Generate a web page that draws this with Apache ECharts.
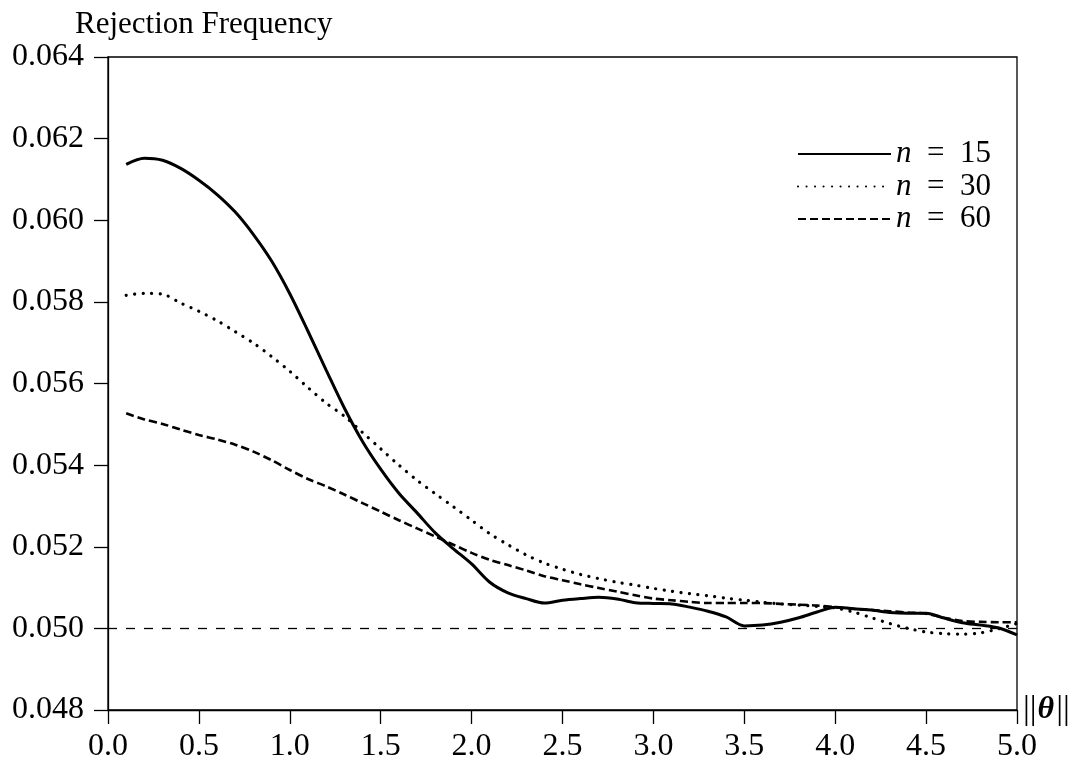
<!DOCTYPE html>
<html>
<head>
<meta charset="utf-8">
<script src="https://cdn.jsdelivr.net/npm/echarts@6/dist/echarts.min.js"></script>
<style>
html,body{margin:0;padding:0;background:#fff;}
#chart{width:1082px;height:767px;}
</style>
</head>
<body>
<div id="chart"></div>
<script>
// ---- data ----
const thetaNorm = [0.1,0.2,0.3,0.4,0.5,0.6,0.7,0.8,0.9,1.0,1.1,1.2,1.3,1.4,1.5,1.6,1.7,1.8,1.9,2.0,2.1,2.2,2.3,2.4,2.5,2.6,2.7,2.8,2.9,3.0,3.1,3.2,3.3,3.4,3.5,3.6,3.7,3.8,3.9,4.0,4.1,4.2,4.3,4.4,4.5,4.6,4.7,4.8,4.9,5.0];
const rejN15 = [0.06137,0.06152,0.06147,0.06127,0.06098,0.06063,0.06020,0.05965,0.05900,0.05820,0.05728,0.05633,0.05540,0.05458,0.05390,0.05331,0.05283,0.05234,0.05195,0.05158,0.05113,0.05087,0.05073,0.05062,0.05069,0.05073,0.05076,0.05072,0.05063,0.05061,0.05060,0.05052,0.05042,0.05028,0.05006,0.05008,0.05015,0.05026,0.05040,0.05052,0.05048,0.05045,0.05039,0.05037,0.05037,0.05025,0.05014,0.05008,0.05001,0.04984];
const rejN30 = [0.05816,0.05821,0.05819,0.05797,0.05777,0.05754,0.05727,0.05699,0.05666,0.05630,0.05590,0.05552,0.05520,0.05480,0.05440,0.05400,0.05363,0.05330,0.05298,0.05265,0.05232,0.05205,0.05180,0.05160,0.05145,0.05132,0.05122,0.05113,0.05106,0.05098,0.05091,0.05085,0.05080,0.05074,0.05069,0.05064,0.05060,0.05057,0.05054,0.05050,0.05040,0.05026,0.05012,0.05000,0.04991,0.04987,0.04986,0.04989,0.04999,0.05012];
const rejN60 = [0.05527,0.05512,0.05501,0.05487,0.05474,0.05463,0.05450,0.05433,0.05412,0.05388,0.05366,0.05348,0.05328,0.05307,0.05286,0.05265,0.05245,0.05225,0.05205,0.05185,0.05168,0.05155,0.05142,0.05128,0.05118,0.05108,0.05099,0.05090,0.05081,0.05073,0.05069,0.05065,0.05062,0.05062,0.05062,0.05062,0.05060,0.05058,0.05056,0.05052,0.05048,0.05045,0.05042,0.05039,0.05036,0.05026,0.05018,0.05016,0.05015,0.05015];
const seriesNames = ['n = 15','n = 30','n = 60'];
const nominalLevel = 0.05;
const xTicks = {min:0, max:5, step:0.5};
const yTicks = {min:0.048, max:0.064, step:0.002};
const yTitle = 'Rejection Frequency';

// ---- chart ----
const FONT = '"Liberation Serif", "DejaVu Serif", serif';
const pairs = arr => thetaNorm.map((x,i)=>[x, arr[i]]);
const chart = echarts.init(document.getElementById('chart'), null, {renderer:'canvas'});
const axisLineStyle = {color:'#000', width:1.3};
chart.setOption({
  animation:false,
  backgroundColor:'#fff',
  title:{
    text:yTitle, left:75, top:9, padding:0,
    textStyle:{fontFamily:FONT, fontSize:31, fontWeight:'normal', color:'#000'}
  },
  grid:{left:108, right:65, top:57, bottom:57, show:true, borderColor:'#000', borderWidth:1.3, containLabel:false},
  legend:{
    orient:'vertical', left:797, top:138.5, align:'left', padding:0,
    itemWidth:93, itemHeight:3, itemGap:1.5, itemTextGap:8,
    itemStyle:{opacity:0, borderWidth:0},
    textStyle:{fontFamily:FONT, fontSize:31, color:'#000', lineHeight:31,
      rich:{i:{fontFamily:FONT, fontSize:31, fontStyle:'italic', color:'#000', lineHeight:31}}},
    formatter: name => name.replace('n', '{i|n}').replace(' = ', '\u2002=\u2002')
  },
  xAxis:{
    type:'value', min:xTicks.min, max:xTicks.max, interval:xTicks.step,
    name:'{a|||}{b|θ}{a|||}', nameLocation:'end', nameGap:6,
    nameTextStyle:{rich:{
      a:{fontFamily:FONT, fontSize:34, color:'#000'},
      b:{fontFamily:FONT, fontSize:32, fontStyle:'italic', fontWeight:'bold', color:'#000', padding:[0,2,0,1]}
    }},
    axisLine:{show:true, lineStyle:axisLineStyle},
    axisTick:{show:true, inside:false, length:14, lineStyle:axisLineStyle},
    axisLabel:{fontFamily:FONT, fontSize:32, color:'#000', margin:21, formatter:v=>v.toFixed(1)},
    splitLine:{show:false}
  },
  yAxis:{
    type:'value', min:yTicks.min, max:yTicks.max, interval:yTicks.step,
    axisLine:{show:true, lineStyle:axisLineStyle},
    axisTick:{show:true, inside:false, length:14, lineStyle:axisLineStyle},
    axisLabel:{fontFamily:FONT, fontSize:32, color:'#000', margin:24, formatter:v=>v.toFixed(3)},
    splitLine:{show:false}
  },
  series:[
    {name:seriesNames[0], type:'line', data:pairs(rejN15), showSymbol:false, symbol:'none', smooth:0.3,
     lineStyle:{color:'#000', width:3, type:'solid'}, itemStyle:{color:'#000'},
     markLine:{silent:true, symbol:['none','none'], label:{show:false},
       lineStyle:{color:'#000', width:1.3, type:[9,9]}, data:[{yAxis:nominalLevel}]}},
    {name:seriesNames[1], type:'line', data:pairs(rejN30), showSymbol:false, symbol:'none', smooth:0.3,
     lineStyle:{color:'#000', width:3.2, type:[0.1,8.4], cap:'round'}, itemStyle:{color:'#000'}},
    {name:seriesNames[2], type:'line', data:pairs(rejN60), showSymbol:false, symbol:'none', smooth:0.3,
     lineStyle:{color:'#000', width:2.6, type:[8,4]}, itemStyle:{color:'#000'}}
  ]
});
</script>
</body>
</html>
